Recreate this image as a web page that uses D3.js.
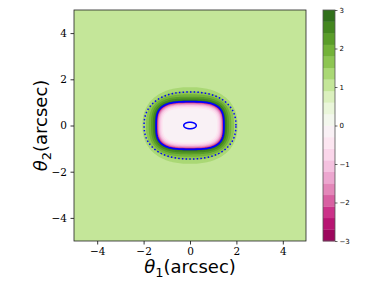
<!DOCTYPE html>
<html>
<head>
<meta charset="utf-8">
<script src="https://cdn.jsdelivr.net/npm/d3@7"></script>
<style>
  body { margin: 0; background: #fff; }
  svg { display: block; }
</style>
</head>
<body>
<svg width="382" height="286"></svg>
<script>
// contour levels of the colour bar
const levels = [-3, -2.7, -2.4, -2.1, -1.8, -1.5, -1.2, -0.9, -0.6, -0.3, 0,
    0.3, 0.6, 0.9, 1.2, 1.5, 1.8, 2.1, 2.4, 2.7, 3];
const cbTicks = [-3, -2, -1, 0, 1, 2, 3];
const xTicks = [-4, -2, 0, 2, 4];
const yTicks = [-4, -2, 0, 2, 4];

// filled regions, outermost first: value, half width, half height (arcsec), squareness
const bgValue = 1.05;
const bandValue = [1.35, 1.65, 1.95, 2.25, 2.55, 2.85,
    -2.85, -2.55, -2.25, -1.95, -1.65, -1.35, -1.05, -0.75, -0.45, -0.15];
const bandHalfX = [2.05, 1.90, 1.78, 1.68, 1.60, 1.53,
    1.46, 1.44, 1.42, 1.40, 1.38, 1.35, 1.32, 1.28, 1.23, 1.17];
const bandHalfY = [1.66, 1.48, 1.35, 1.25, 1.17, 1.09,
    1.03, 1.01, 0.99, 0.97, 0.95, 0.92, 0.89, 0.85, 0.80, 0.74];
const bandPow = [2.3, 2.5, 2.7, 2.9, 3.0, 3.1,
    3.2, 3.2, 3.2, 3.2, 3.2, 3.2, 3.2, 3.2, 3.2, 3.2];

// curves: critical (solid), outer caustic (dotted), inner caustic (solid)
const critical = [1.46, 1.03, 3.2];
const causticOuter = [1.98, 1.45, 2.3];
const causticInner = [0.27, 0.14, 2];

const svg = d3.select('svg');
const plot = { left: 74, right: 306, top: 10, bottom: 241 };
const cb = { left: 323, right: 335 };

const x = d3.scaleLinear().domain([-5, 5]).range([plot.left, plot.right]);
const y = d3.scaleLinear().domain([-5, 5]).range([plot.bottom, plot.top]);
const cy = d3.scaleLinear().domain([-3, 3]).range([plot.bottom, plot.top]);

const piyg = d3.piecewise(d3.interpolateRgb, ['#8e0152', '#c51b7d', '#de77ae', '#f1b6da',
    '#fde0ef', '#f7f7f7', '#e6f5d0', '#b8e186', '#7fbc41', '#4d9221', '#276419']);
const color = v => piyg((v + 3) / 6);

// superellipse outline through the scales
function shape(ax, ay, n) {
    const pts = d3.range(0, 360, 2).map(a => {
        const t = a * Math.PI / 180;
        const c = Math.cos(t), s = Math.sin(t);
        return [x(ax * Math.sign(c) * Math.pow(Math.abs(c), 2 / n)),
                y(ay * Math.sign(s) * Math.pow(Math.abs(s), 2 / n))];
    });
    return d3.line().curve(d3.curveLinearClosed)(pts);
}

svg.append('defs').append('clipPath').attr('id', 'clip')
    .append('rect')
    .attr('x', plot.left).attr('y', plot.top)
    .attr('width', plot.right - plot.left).attr('height', plot.bottom - plot.top);

const g = svg.append('g').attr('clip-path', 'url(#clip)');

g.append('rect')
    .attr('x', plot.left).attr('y', plot.top)
    .attr('width', plot.right - plot.left).attr('height', plot.bottom - plot.top)
    .attr('fill', color(bgValue));

g.selectAll('path.band')
    .data(bandValue)
    .join('path')
    .attr('class', 'band')
    .attr('d', (d, i) => shape(bandHalfX[i], bandHalfY[i], bandPow[i]))
    .attr('fill', d => color(d));

g.append('path')
    .attr('d', shape(...critical))
    .attr('fill', 'none')
    .attr('stroke', '#0000ff')
    .attr('stroke-width', 1.8);

g.append('path')
    .attr('d', shape(...causticOuter))
    .attr('fill', 'none')
    .attr('stroke', '#0000ff')
    .attr('stroke-width', 1.5)
    .attr('stroke-dasharray', '1.5,2.2');

g.append('path')
    .attr('d', shape(...causticInner))
    .attr('fill', 'none')
    .attr('stroke', '#0000ff')
    .attr('stroke-width', 1.5);

// axes
const fmt = d => d < 0 ? '\u2212' + Math.abs(d) : d;
const xAxis = svg.append('g')
    .attr('transform', 'translate(0,' + plot.bottom + ')')
    .call(d3.axisBottom(x).tickValues(xTicks).tickSize(3.5).tickPadding(3.5).tickFormat(fmt));
const yAxis = svg.append('g')
    .attr('transform', 'translate(' + plot.left + ',0)')
    .call(d3.axisLeft(y).tickValues(yTicks).tickSize(3.5).tickPadding(3.5).tickFormat(fmt));

[xAxis, yAxis].forEach(ax => {
    ax.select('.domain').remove();
    ax.selectAll('line').attr('stroke', '#000').attr('stroke-width', 0.8);
    ax.selectAll('text')
        .attr('fill', '#000')
        .style('font-family', '"DejaVu Serif", serif')
        .style('font-size', '10.5px');
});

svg.append('rect')
    .attr('x', plot.left).attr('y', plot.top)
    .attr('width', plot.right - plot.left).attr('height', plot.bottom - plot.top)
    .attr('fill', 'none')
    .attr('stroke', '#222')
    .attr('stroke-width', 0.8);

// axis labels
const xl = svg.append('text')
    .attr('x', (plot.left + plot.right) / 2)
    .attr('y', 273)
    .attr('text-anchor', 'middle')
    .style('font-family', '"DejaVu Sans", sans-serif')
    .style('font-size', '18px');
xl.append('tspan').style('font-style', 'italic').text('\u03b8');
xl.append('tspan').attr('dy', 3.5).style('font-size', '13px').text('1');
xl.append('tspan').attr('dy', -3.5).text('(arcsec)');

const yl = svg.append('text')
    .attr('transform', 'translate(47,' + (plot.top + plot.bottom) / 2 + ') rotate(-90)')
    .attr('text-anchor', 'middle')
    .style('font-family', '"DejaVu Sans", sans-serif')
    .style('font-size', '18px');
yl.append('tspan').style('font-style', 'italic').text('\u03b8');
yl.append('tspan').attr('dy', 3.5).style('font-size', '13px').text('2');
yl.append('tspan').attr('dy', -3.5).text('(arcsec)');

// colour bar
const cbg = svg.append('g');
cbg.selectAll('rect')
    .data(levels.slice(0, -1))
    .join('rect')
    .attr('x', cb.left)
    .attr('width', cb.right - cb.left)
    .attr('y', (d, i) => cy(levels[i + 1]))
    .attr('height', (d, i) => cy(levels[i]) - cy(levels[i + 1]) + 0.3)
    .attr('fill', (d, i) => color((levels[i] + levels[i + 1]) / 2));

cbg.append('rect')
    .attr('x', cb.left).attr('y', plot.top)
    .attr('width', cb.right - cb.left).attr('height', plot.bottom - plot.top)
    .attr('fill', 'none')
    .attr('stroke', '#555')
    .attr('stroke-width', 0.8);

const cbAxis = svg.append('g')
    .attr('transform', 'translate(' + cb.right + ',0)')
    .call(d3.axisRight(cy).tickValues(cbTicks).tickSize(2.5).tickPadding(2).tickFormat(fmt));
cbAxis.select('.domain').remove();
cbAxis.selectAll('line').attr('stroke', '#000').attr('stroke-width', 0.6);
cbAxis.selectAll('text')
    .attr('fill', '#000')
    .style('font-family', '"DejaVu Sans", sans-serif')
    .style('font-size', '7px');
</script>
</body>
</html>
